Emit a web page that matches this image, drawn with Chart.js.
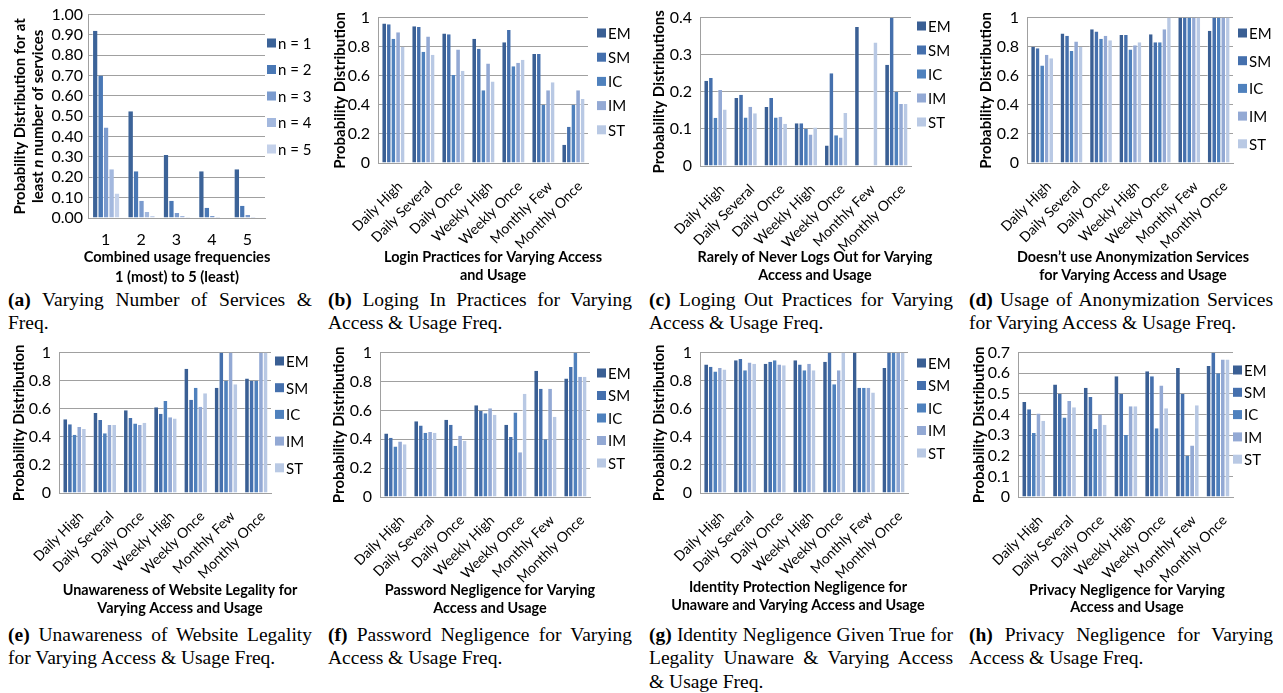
<!DOCTYPE html>
<html>
<head>
<meta charset="utf-8">
<script src="https://cdn.jsdelivr.net/npm/chart.js@4.4.0/dist/chart.umd.min.js"></script>
<style>
  body { margin: 0; background: #fff; width: 1283px; height: 693px; position: relative; overflow: hidden; }
  .panel { position: absolute; }
  .cap { position: absolute; width: 304px; font-family: "Liberation Serif", "Times New Roman", serif; font-size: 19.5px; line-height: 23.3px; color: #000; }
  .cap div { white-space: nowrap; text-align: justify; text-align-last: justify; }
  .cap div.last { text-align-last: left; }
</style>
</head>
<body>
<div class="panel" style="left:0;top:0"><canvas id="ca" width="320" height="285"></canvas></div>
<div class="panel" style="left:320px;top:0"><canvas id="cb" width="320" height="285"></canvas></div>
<div class="panel" style="left:640px;top:0"><canvas id="cc" width="320" height="285"></canvas></div>
<div class="panel" style="left:960px;top:0"><canvas id="cd" width="323" height="285"></canvas></div>
<div class="panel" style="left:0;top:335px"><canvas id="ce" width="320" height="285"></canvas></div>
<div class="panel" style="left:320px;top:335px"><canvas id="cf" width="320" height="285"></canvas></div>
<div class="panel" style="left:640px;top:335px"><canvas id="cg" width="320" height="285"></canvas></div>
<div class="panel" style="left:960px;top:335px"><canvas id="ch" width="323" height="285"></canvas></div>

<div class="cap" style="left:8px;top:288px"><div><b>(a)</b> Varying Number of Services &amp;</div><div class="last">Freq.</div></div>
<div class="cap" style="left:328px;top:288px"><div><b>(b)</b> Loging In Practices for Varying</div><div class="last">Access &amp; Usage Freq.</div></div>
<div class="cap" style="left:649px;top:288px"><div><b>(c)</b> Loging Out Practices for Varying</div><div class="last">Access &amp; Usage Freq.</div></div>
<div class="cap" style="left:969px;top:288px"><div><b>(d)</b> Usage of Anonymization Services</div><div class="last">for Varying Access &amp; Usage Freq.</div></div>
<div class="cap" style="left:8px;top:623px"><div><b>(e)</b> Unawareness of Website Legality</div><div class="last">for Varying Access &amp; Usage Freq.</div></div>
<div class="cap" style="left:328px;top:623px"><div><b>(f)</b> Password Negligence for Varying</div><div class="last">Access &amp; Usage Freq.</div></div>
<div class="cap" style="left:649px;top:623px"><div><b>(g)</b> Identity Negligence Given True for</div><div>Legality Unaware &amp; Varying Access</div><div class="last">&amp; Usage Freq.</div></div>
<div class="cap" style="left:969px;top:623px"><div><b>(h)</b> Privacy Negligence for Varying</div><div class="last">Access &amp; Usage Freq.</div></div>

<script>
// categories and series names
const usageLevels = ['1', '2', '3', '4', '5'];
const nLabels = ['n = 1', 'n = 2', 'n = 3', 'n = 4', 'n = 5'];
const freqCats = ['Daily High', 'Daily Several', 'Daily Once', 'Weekly High', 'Weekly Once', 'Monthly Few', 'Monthly Once'];
const groups = ['EM', 'SM', 'IC', 'IM', 'ST'];

// (a) one row per n, across usage levels 1..5
const serviceRows = [
  [0.92, 0.525, 0.31, 0.23, 0.24],
  [0.70, 0.23, 0.085, 0.05, 0.06],
  [0.445, 0.085, 0.025, 0.01, 0.015],
  [0.24, 0.03, 0.01, 0.005, 0.005],
  [0.12, 0.01, 0.005, 0.003, 0.003]
];
// (b)-(h) one row per group (EM, SM, IC, IM, ST), across freqCats
const loginRows = [
  [0.96, 0.94, 0.89, 0.855, 0.83, 0.75, 0.125],
  [0.955, 0.935, 0.885, 0.785, 0.915, 0.75, 0.25],
  [0.855, 0.765, 0.605, 0.50, 0.665, 0.40, 0.40],
  [0.90, 0.87, 0.78, 0.685, 0.69, 0.50, 0.50],
  [0.80, 0.745, 0.635, 0.56, 0.71, 0.555, 0.44]
];
const logoutRows = [
  [0.23, 0.183, 0.159, 0.115, 0.055, 0.375, 0.273],
  [0.237, 0.192, 0.183, 0.115, 0.25, 0, 0.40],
  [0.13, 0.131, 0.131, 0.10, 0.083, 0, 0.20],
  [0.205, 0.16, 0.133, 0.085, 0.077, 0, 0.167],
  [0.152, 0.142, 0.114, 0.104, 0.143, 0.333, 0.167]
];
const anonRows = [
  [0.80, 0.89, 0.92, 0.88, 0.885, 1, 0.91],
  [0.79, 0.875, 0.905, 0.88, 0.83, 1, 1],
  [0.67, 0.77, 0.855, 0.78, 0.83, 1, 1],
  [0.745, 0.835, 0.875, 0.81, 0.92, 1, 1],
  [0.72, 0.80, 0.845, 0.83, 1, 1, 1]
];
const legalityRows = [
  [0.525, 0.57, 0.59, 0.61, 0.885, 0.75, 0.815],
  [0.49, 0.52, 0.535, 0.565, 0.665, 1, 0.80],
  [0.415, 0.425, 0.495, 0.655, 0.75, 0.80, 0.80],
  [0.47, 0.485, 0.485, 0.54, 0.615, 1, 1],
  [0.455, 0.485, 0.50, 0.53, 0.71, 0.775, 1]
];
const passwordRows = [
  [0.44, 0.525, 0.535, 0.635, 0.50, 0.875, 0.82],
  [0.41, 0.495, 0.50, 0.595, 0.415, 0.75, 0.90],
  [0.35, 0.445, 0.355, 0.58, 0.585, 0.40, 1],
  [0.385, 0.45, 0.425, 0.615, 0.31, 0.75, 0.833],
  [0.365, 0.445, 0.39, 0.57, 0.715, 0.555, 0.833]
];
const identityRows = [
  [0.915, 0.945, 0.92, 0.945, 0.935, 1, 0.89],
  [0.90, 0.955, 0.935, 0.915, 1, 0.75, 1],
  [0.865, 0.875, 0.945, 0.875, 0.775, 0.75, 1],
  [0.89, 0.93, 0.915, 0.92, 0.875, 0.75, 1],
  [0.88, 0.92, 0.91, 0.875, 1, 0.715, 1]
];
const privacyRows = [
  [0.46, 0.545, 0.53, 0.585, 0.61, 0.625, 0.635],
  [0.425, 0.50, 0.485, 0.50, 0.585, 0.50, 0.70],
  [0.31, 0.385, 0.33, 0.30, 0.333, 0.20, 0.60],
  [0.405, 0.465, 0.40, 0.44, 0.54, 0.25, 0.667],
  [0.37, 0.435, 0.35, 0.44, 0.43, 0.445, 0.667]
];

const groupColors = ['#3A5F94', '#4570AD', '#4F81BD', '#93A9D4', '#B9C9E4'];
const nColors = ['#3C6398', '#4A78B5', '#7B9BCE', '#A3B8DE', '#C4D1EA'];
const gridGray = '#A0A0A0';
const FONT = 'Lato';

// legend drawn beside the plot, Excel style
const sideLegend = {
  id: 'sideLegend',
  afterDraw(chart, args, opts) {
    const ctx = chart.ctx;
    ctx.save();
    ctx.font = '15px ' + FONT;
    ctx.textBaseline = 'middle';
    chart.data.datasets.forEach((ds, i) => {
      const y = opts.y + i * opts.dy;
      ctx.fillStyle = ds.backgroundColor;
      ctx.fillRect(opts.x, y - 4.5, 9, 9);
      ctx.fillStyle = '#000';
      ctx.fillText(ds.label, opts.x + 11, y + 1);
    });
    ctx.restore();
  }
};

// axis titles drawn as text runs, so they are not squeezed to the plot width
// and the (a) y title can carry an italic n
const axisTitles = {
  id: 'axisTitles',
  afterDraw(chart, args, opts) {
    const ctx = chart.ctx;
    const area = chart.chartArea;
    ctx.save();
    ctx.fillStyle = '#000';
    ctx.textBaseline = 'middle';
    const runWidth = (segs, size) => segs.reduce((t, s) => {
      ctx.font = s[1] + ' ' + size + 'px ' + FONT;
      return t + ctx.measureText(s[0]).width;
    }, 0);
    const drawRun = (segs, size, cx, cy, rot) => {
      const total = runWidth(segs, size);
      ctx.save();
      ctx.translate(cx, cy);
      if (rot) ctx.rotate(-Math.PI / 2);
      let x = -total / 2;
      segs.forEach(s => {
        ctx.font = s[1] + ' ' + size + 'px ' + FONT;
        ctx.fillText(s[0], x, 0);
        x += ctx.measureText(s[0]).width;
      });
      ctx.restore();
    };
    const y = opts.y;
    if (y) {
      const cy = (area.top + area.bottom) / 2;
      y.lines.forEach((segs, i) => drawRun(segs, y.size, y.x[i], cy, true));
    }
    const x = opts.x;
    if (x) {
      x.lines.forEach((line, i) => drawRun([[line, 'bold']], x.size, x.cx, x.y[i], false));
    }
    ctx.restore();
  }
};

const plainFmt = v => String(Math.round(v * 100) / 100);

function makePanel(id, cfg) {
  const [aLeft, aTop, aRight, aBottom] = cfg.area;
  const w = cfg.w, h = 285;
  return new Chart(document.getElementById(id), {
    type: 'bar',
    data: {
      labels: cfg.labels,
      datasets: cfg.rows.map((row, i) => ({
        label: cfg.names[i],
        data: row,
        backgroundColor: cfg.colors[i],
        borderColor: 'rgba(255,255,255,0.45)',
        borderWidth: { left: 1, right: 0, top: 0, bottom: 0 },
        borderSkipped: false,
        categoryPercentage: 0.77,
        barPercentage: 1
      }))
    },
    options: {
      responsive: false,
      animation: false,
      devicePixelRatio: 1,
      layout: { padding: { left: 0, top: aTop, right: w - aRight, bottom: 0 } },
      plugins: {
        legend: { display: false },
        tooltip: { enabled: false },
        sideLegend: cfg.legend,
        axisTitles: {
          x: { lines: cfg.xTitle, size: cfg.xTitleSize || 14.4, cx: cfg.xTitleX, y: cfg.xTitleY },
          y: { lines: cfg.yTitle, size: 15, x: cfg.yTitleX }
        }
      },
      scales: {
        x: {
          grid: { display: false, drawTicks: false },
          border: { display: true, color: gridGray },
          ticks: {
            color: '#000',
            font: { family: FONT, size: cfg.xTickSize || 14 },
            minRotation: cfg.rot, maxRotation: cfg.rot,
            padding: cfg.xPad, labelOffset: cfg.xShift || 0,
            autoSkip: false
          },
          afterFit: s => { s.height = h - aBottom; }
        },
        y: {
          min: 0, max: cfg.max,
          grid: { color: gridGray, drawTicks: false },
          border: { display: true, color: gridGray },
          ticks: {
            stepSize: cfg.step, color: '#000', padding: cfg.yPad,
            font: { family: FONT, size: 16 },
            autoSkip: false,
            callback: cfg.fmt || plainFmt
          },
          afterFit: s => { s.width = aLeft; }
        }
      }
    },
    plugins: [sideLegend, axisTitles]
  });
}

const probTitle = [[['Probability Distribution', 'bold']]];

function freqPanel(id, rows, o) {
  return makePanel(id, Object.assign({
    labels: freqCats, names: groups, colors: groupColors, rows: rows,
    w: 320, max: 1, step: 0.2, rot: 45, xPad: 15, xShift: 7, yPad: 8,
    xTitleY: [257, 275], yTitle: probTitle, yTitleX: [20]
  }, o));
}

function drawAll() {
  makePanel('ca', {
    labels: usageLevels, names: nLabels, colors: nColors, rows: serviceRows,
    w: 320, area: [88, 12, 265, 218], max: 1, step: 0.1, rot: 0, xPad: 12, yPad: 5,
    xTickSize: 16, fmt: v => v.toFixed(2),
    xTitle: ['Combined usage frequencies', '1 (most) to 5 (least)'], xTitleSize: 14.6,
    xTitleX: 177, xTitleY: [257, 277],
    yTitleX: [20, 37.7], yTitle: [
      [['Probability Distribution for at', 'bold']],
      [['least ', 'bold'], ['n', 'italic bold'], [' number of services', 'bold']]
    ],
    legend: { x: 267, y: 43, dy: 26.5 }
  });
  freqPanel('cb', loginRows, {
    area: [58, 12, 268, 163],
    xTitle: ['Login Practices for Varying Access', 'and Usage'], xTitleX: 173,
    legend: { x: 277, y: 33, dy: 24.2 }
  });
  freqPanel('cc', logoutRows, {
    area: [60, 12, 271, 166], max: 0.4, step: 0.1,
    yTitle: [[['Probability Distributions', 'bold']]], yTitleX: [19.3],
    xTitle: ['Rarely of Never Logs Out for Varying', 'Access and Usage'], xTitleX: 175,
    legend: { x: 277, y: 26, dy: 24 }
  });
  freqPanel('cd', anonRows, {
    w: 323, area: [67, 11, 273, 163], yTitleX: [26],
    xTitle: ['Doesn\u2019t use Anonymization Services', 'for Varying Access and Usage'], xTitleX: 173,
    legend: { x: 278, y: 33, dy: 27.7 }
  });
  freqPanel('ce', legalityRows, {
    area: [59, 14, 271, 158], yTitleX: [19.3],
    xTitle: ['Unawareness of Website Legality for', 'Varying Access and Usage'], xTitleX: 180, xTitleY: [255, 273],
    legend: { x: 275, y: 26, dy: 26.7 }
  });
  freqPanel('cf', passwordRows, {
    area: [60, 10, 270, 162], yTitleX: [19.3],
    xTitle: ['Password Negligence for Varying', 'Access and Usage'], xTitleX: 170, xTitleY: [255, 273],
    legend: { x: 277, y: 38, dy: 22.5 }
  });
  freqPanel('cg', identityRows, {
    area: [60, 10, 268, 158], yTitleX: [19.3],
    xTitle: ['Identity Protection Negligence for', 'Unaware and Varying Access and Usage'], xTitleX: 158, xTitleY: [252, 270],
    legend: { x: 277, y: 28, dy: 22.5 }
  });
  freqPanel('ch', privacyRows, {
    w: 323, area: [58, 12, 273, 162], max: 0.7, step: 0.1, yTitleX: [19.3],
    xTitle: ['Privacy Negligence for Varying', 'Access and Usage'], xTitleX: 167, xTitleY: [255, 272],
    legend: { x: 273, y: 35, dy: 22.3 }
  });
}

Promise.all([
  document.fonts.load('15px Lato'),
  document.fonts.load('bold 15px Lato'),
  document.fonts.load('italic bold 15px Lato')
]).then(drawAll, drawAll);
</script>
</body>
</html>
